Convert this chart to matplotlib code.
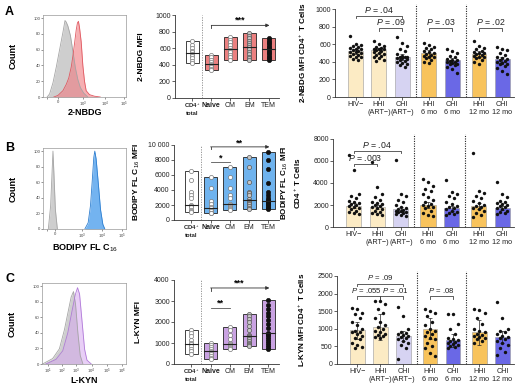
import numpy as np
import matplotlib
matplotlib.use("Agg")
import matplotlib.pyplot as plt

plt.rcParams['font.family'] = ['Liberation Sans', 'DejaVu Sans']
plt.rcParams['mathtext.fontset'] = 'custom'
plt.rcParams['mathtext.rm'] = 'Liberation Sans'
plt.rcParams['mathtext.it'] = 'Liberation Sans:italic'
plt.rcParams['mathtext.bf'] = 'Liberation Sans:bold'

# ---------------- DATA ----------------
# histograms (channel position, % of max)
histA_gray_x = [5, 8, 12, 16, 20, 24, 26.5, 28, 30, 33, 36, 39, 42, 45, 49, 54]
histA_gray_y = [0, 4, 18, 38, 60, 82, 97, 95, 90, 78, 58, 37, 22, 12, 5, 0]
histA_red_x = [13, 18, 24, 28, 31, 34, 36, 38, 40, 41.5, 42.7, 44, 46, 48, 50, 52, 56, 62, 69]
histA_red_y = [0, 2, 8, 16, 24, 38, 52, 68, 85, 94, 96, 88, 70, 40, 20, 8, 3, 1, 0]
histB_gray_x = [6.4, 9.2, 11.2, 12, 13.2, 14.9, 17.3]
histB_gray_y = [0, 30, 80, 100, 70, 25, 0]
histB_blue_x = [50.4, 54.4, 57.2, 59.2, 61.2, 62.4, 64, 66.5, 69.3, 72.1, 74.5]
histB_blue_y = [0, 8, 30, 60, 92, 100, 90, 60, 25, 6, 0]
histC_gray_x = [0.6, 12.7, 20.7, 26.7, 30.7, 34.7, 37.5, 39.9, 42.7, 45.5, 48.7]
histC_gray_y = [0, 7, 19.5, 44, 65, 86, 93, 77, 40, 11, 0]
histC_purple_x = [4.6, 16.7, 24.7, 30.7, 35.9, 39.9, 42.3, 44.7, 47.9, 50.7, 53.5, 58.7]
histC_purple_y = [0, 6, 17, 40, 69, 90, 98, 90, 52, 19, 5, 0]

subset_labels = ["CD4$^+$\ntotal", "Naive", "CM", "EM", "TEM"]
midA_dots = [
    [690, 640, 600, 570, 550, 530, 510, 480, 450, 420],
    [520, 490, 460, 430, 410, 400, 390, 370, 350, 340],
    [730, 700, 670, 640, 600, 580, 550, 520, 490, 460],
    [780, 750, 720, 690, 660, 640, 610, 590, 560, 530, 500, 480, 460],
    [720, 700, 680, 660, 640, 620, 600, 580, 560, 540, 520, 500, 480, 460],
]
midB_dots = [
    [6500, 5300, 3700, 3300, 2900, 2000, 1900, 1700, 1400, 1200, 1100],
    [5700, 4300, 2600, 2200, 1700, 1550, 1400, 1200, 1000, 900],
    [7100, 5700, 4300, 3300, 2900, 2200, 2000, 1800, 1600, 1500, 1300],
    [8400, 7000, 5100, 3800, 3600, 3300, 2800, 2600, 2500, 2300, 2100, 1900, 1600, 1500],
    [9100, 8000, 6800, 5000, 3700, 3300, 3000, 2700, 2500, 2400, 2300, 2100, 2000, 1800, 1600, 1500],
]
midC_dots = [
    [1600, 1500, 1350, 1150, 1000, 950, 850, 700, 600, 500],
    [1000, 900, 800, 700, 620, 580, 500, 400, 300, 220],
    [1750, 1600, 1400, 1200, 1000, 950, 900, 800, 750, 700],
    [2400, 2300, 2150, 2000, 1800, 1600, 1400, 1350, 1300, 1200, 1100, 1000, 950, 900, 850],
    [3050, 2800, 2600, 2450, 2300, 2100, 1900, 1700, 1500, 1420, 1400, 1300, 1200, 1100, 1000, 900, 800, 700],
]

group_labels = ["HIV\u2212", "HHI\n(ART\u2212)", "CHI\n(ART\u2212)", "HHI\n6 mo", "CHI\n6 mo", "HHI\n12 mo", "CHI\n12 mo"]
rightA_bars = [520, 530, 450, 500, 415, 490, 430]
rightA_errs = [30, 30, 35, 30, 30, 30, 30]
rightA_dots = [
    [690, 600, 590, 580, 570, 560, 550, 540, 530, 520, 515, 510, 500, 490, 480, 470, 460, 450, 430, 420],
    [640, 600, 580, 570, 560, 550, 545, 540, 530, 520, 510, 500, 490, 480, 470, 460, 440, 420, 410],
    [680, 610, 580, 540, 520, 490, 470, 460, 455, 450, 445, 440, 430, 420, 410, 400, 390, 380, 360, 340],
    [610, 590, 570, 560, 540, 520, 510, 500, 490, 480, 470, 460, 450, 440, 420, 400, 390],
    [540, 520, 500, 470, 450, 430, 420, 415, 410, 400, 395, 390, 380, 370, 360, 340, 320, 270],
    [640, 580, 560, 540, 520, 510, 500, 495, 490, 480, 470, 460, 450, 440, 420, 400, 380],
    [570, 550, 530, 500, 480, 460, 440, 430, 420, 410, 400, 390, 380, 370, 350, 330, 300, 260],
]
rightB_bars = [1950, 1800, 1600, 2000, 1700, 1900, 1750]
rightB_errs = [250, 200, 200, 300, 250, 300, 200]
rightB_dots = [
    [6500, 5200, 3000, 2800, 2600, 2400, 2300, 2200, 2100, 2000, 1900, 1800, 1700, 1600, 1500, 1400, 1300, 1200],
    [5900, 3600, 3000, 2700, 2500, 2300, 2200, 2100, 2000, 1900, 1800, 1700, 1600, 1500, 1400, 1300, 1200, 1100],
    [6100, 3000, 2800, 2500, 2300, 2000, 1800, 1700, 1600, 1550, 1500, 1450, 1400, 1350, 1300, 1200, 1100, 1000],
    [4400, 4100, 3700, 3500, 3300, 3000, 2700, 2500, 2300, 2100, 2000, 1900, 1800, 1700, 1500, 1300, 1100, 1000],
    [4300, 3200, 3000, 2800, 2600, 2300, 2100, 1900, 1800, 1700, 1600, 1500, 1400, 1300, 1200, 1100],
    [6700, 3300, 3100, 2800, 2600, 2400, 2200, 2000, 1900, 1800, 1700, 1600, 1500, 1300, 1100, 900],
    [4100, 3000, 2700, 2400, 2300, 2200, 2100, 2000, 1900, 1800, 1700, 1600, 1500, 1400, 1300, 1200],
]
rightC_bars = [960, 1050, 800, 1000, 670, 900, 760]
rightC_errs = [240, 380, 150, 300, 180, 360, 170]
rightC_dots = [
    [1600, 1550, 1450, 1420, 1300, 1200, 1100, 1000, 950, 920, 900, 850, 800, 750, 700, 600, 550, 480, 450],
    [1800, 1780, 1700, 1550, 1450, 1300, 1200, 1100, 1050, 1000, 950, 900, 850, 820, 800, 780, 750],
    [1630, 1350, 1000, 900, 880, 850, 820, 800, 780, 750, 700, 650, 600, 550, 450, 150],
    [1550, 1500, 1450, 1350, 1200, 1100, 1000, 950, 900, 850, 800, 750, 700, 600, 500, 450, 300, 230],
    [1430, 1430, 1150, 1000, 850, 750, 700, 680, 650, 620, 600, 580, 550, 500, 480, 450],
    [1550, 1520, 1450, 1300, 1150, 1000, 950, 900, 850, 820, 800, 780, 750, 700, 650, 600],
    [1770, 1300, 1000, 950, 900, 850, 800, 780, 750, 700, 650, 600, 550, 450, 350, 250],
]

# ---------------- LAYOUT ----------------
W, H = 520, 387
fig = plt.figure(figsize=(5.2, 3.87), dpi=100)
AX_COL = '#333333'


def ax_px(x0, y0, x1, y1):
    return fig.add_axes([x0 / W, 1 - y1 / H, (x1 - x0) / W, (y1 - y0) / H])


def hist_panel(rect, curves, xticks, xticklabels, xlabel, label_y):
    ax = ax_px(*rect)
    for xs, ys, fc, ec, a in curves:
        ax.fill_between(xs, ys, color=fc, alpha=a, lw=0)
        ax.plot(xs, ys, color=ec, lw=0.6)
    ax.set_xlim(0, 100)
    ax.set_ylim(0, 104)
    ax.set_yticks([0, 20, 40, 60, 80, 100])
    ax.set_xticks(xticks)
    ax.set_xticklabels(xticklabels)
    ax.tick_params(labelsize=3.1, length=1.5, width=0.4, pad=0.6, colors='#444')
    for s in ax.spines.values():
        s.set_color('#999999')
        s.set_linewidth(0.5)
    ax.set_xlabel(xlabel, fontsize=6.5, fontweight='bold')
    ax.xaxis.set_label_coords(0.5, label_y)
    ax.xaxis.label.set_va('center')
    ax.set_ylabel("Count", fontsize=6.5, fontweight='bold')
    ax.yaxis.set_label_coords(-0.3, 0.5)
    return ax


def style_axes(ax):
    for s in ['top', 'right']:
        ax.spines[s].set_visible(False)
    for s in ['left', 'bottom']:
        ax.spines[s].set_color(AX_COL)
        ax.spines[s].set_linewidth(0.6)
    ax.tick_params(labelsize=5, length=2, width=0.5, pad=1, colors='#222')


def mid_panel(rect, dots, box_color, ylim, yticks, ytl, ylabel, label_x):
    ax = ax_px(*rect)
    style_axes(ax)
    w = 0.68
    for i, d in enumerate(dots):
        lo, hi, med = min(d), max(d), float(np.median(d))
        fc = 'white' if i == 0 else box_color
        ax.bar(i, hi - lo, bottom=lo, width=w, color=fc, edgecolor='#222222', lw=0.6, zorder=2)
        ax.plot([i - w / 2, i + w / 2], [med, med], color='#222222', lw=0.8, zorder=4)
        if i < 3:
            mfc, mec = 'white', '#777777'
        elif i == 3:
            mfc, mec = '#c8c8c8', '#555555'
        else:
            mfc, mec = '#111111', '#111111'
        ax.scatter([i] * len(d), d, s=9, facecolor=mfc, edgecolor=mec, lw=0.5, zorder=3)
    ax.axvline(0.5, color='#888888', lw=0.6, ls=(0, (1.5, 1.5)))
    ax.set_xlim(-0.9, 4.55)
    ax.set_ylim(*ylim)
    ax.set_yticks(yticks)
    ax.set_yticklabels(ytl)
    ax.set_xticks(range(5))
    ax.set_xticklabels(subset_labels)
    for k, t in enumerate(ax.get_xticklabels()):
        t.set_fontsize(5 if k > 0 else 4.2)
        if k < 2:
            t.set_fontweight('bold')
    ax.set_ylabel(ylabel, fontsize=6, fontweight='bold')
    ax.yaxis.set_label_coords(label_x, 0.5)
    return ax


def arrow_bracket(ax, y, tick, text, ty):
    ax.annotate('', xy=(4.05, y), xytext=(1, y),
                arrowprops=dict(arrowstyle='-|>', lw=0.6, color='#333333', mutation_scale=5,
                                shrinkA=0, shrinkB=0), annotation_clip=False)
    ax.plot([1, 1], [y, y - tick], color='#333333', lw=0.6, clip_on=False)
    ax.text(2.5, ty, text, ha='center', va='center', fontsize=6.5, fontweight='bold', clip_on=False)


def line_bracket(ax, x1, x2, y, text, ty, tx):
    ax.plot([x1, x2], [y, y], color='#555555', lw=0.6, clip_on=False)
    ax.text(tx, ty, text, ha='center', va='center', fontsize=6.5, fontweight='bold', clip_on=False)


pos = [0, 1, 2, 3.15, 4.15, 5.3, 6.3]
bar_colors = ['#fcebc4', '#fcebc4', '#d6d3f2', '#f8c35c', '#6a68e6', '#f8c35c', '#6a68e6']
offs = [-0.22, 0.0, 0.22, -0.11, 0.11]


def right_panel(rect, dots, bars, errs, ylim, yticks, ylabel, label_x, brackets, tick, pfs=6.3):
    ax = ax_px(*rect)
    style_axes(ax)
    ax.bar(pos, bars, width=0.64, color=bar_colors, edgecolor='#9a9a9a', lw=0.4, zorder=1)
    ax.errorbar(pos, bars, yerr=errs, fmt='none', ecolor='#222222', elinewidth=0.5,
                capsize=1.6, capthick=0.5, zorder=2)
    for p, d in zip(pos, dots):
        xs = [p + offs[k % len(offs)] for k in range(len(d))]
        ax.scatter(xs, d, s=6, color='#111111', lw=0, zorder=3)
    for xv in [2.575, 4.725]:
        ax.axvline(xv, ymin=0, ymax=1.06, color='#222222', lw=0.8, ls=(0, (1, 1.2)), clip_on=False)
    for x1, x2, y, txt, tx in brackets:
        ax.plot([x1, x1, x2, x2], [y - tick, y, y, y - tick], color='#444444', lw=0.6, clip_on=False)
        ax.text(tx, y + tick * 0.6, txt, ha='center', va='bottom', fontsize=pfs,
                color='#222222', clip_on=False)
    ax.set_xlim(-0.88, 6.8)
    ax.set_ylim(*ylim)
    ax.set_yticks(yticks)
    ax.set_xticks(pos)
    ax.set_xticklabels(group_labels, fontsize=5.2)
    ax.set_ylabel(ylabel, fontsize=5.8, fontweight='bold', linespacing=1.3)
    ax.yaxis.set_label_coords(label_x, 0.5)
    return ax


P = r"$\mathit{P}$"

# ---- Row A ----
hist_panel((43, 15, 126, 97),
           [(histA_gray_x, histA_gray_y, '#c9c9c9', '#a5a5a5', 0.9),
            (histA_red_x, histA_red_y, '#f07a80', '#e05860', 0.6)],
           [5, 18, 48, 75, 98], ["", "0", "$10^3$", "$10^4$", "$10^5$"], "2-NBDG", -0.185)
axA2 = mid_panel((175, 15, 279, 98), midA_dots, '#eb8080', (0, 1000),
                 [0, 200, 400, 600, 800, 1000], ["0", "200", "400", "600", "800", "1000"],
                 "2-NBDG MFI", -0.29)
arrow_bracket(axA2, 875, 30, "***", 935)
right_panel((335, 9, 514, 97), rightA_dots, rightA_bars, rightA_errs, (0, 1000),
            [0, 200, 400, 600, 800, 1000], "2-NBDG MFI CD4$^+$ T Cells", -0.15,
            [(0, 2, 920, P + " = .04", 1), (1, 2, 780, P + " = .09", 1.5),
             (3.15, 4.15, 780, P + " = .03", 3.65), (5.3, 6.3, 780, P + " = .02", 5.8)], 25)

# ---- Row B ----
hist_panel((43, 148, 126, 229),
           [(histB_gray_x, histB_gray_y, '#c9c9c9', '#a5a5a5', 0.9),
            (histB_blue_x, histB_blue_y, '#5aa6ee', '#2f7fd0', 0.85)],
           [5, 14, 47, 71, 95], ["", "0", "$10^3$", "$10^4$", "$10^5$"], "BODIPY FL C$_{16}$", -0.235)
axB2 = mid_panel((174, 145, 279, 220), midB_dots, '#6fb3ee', (0, 10000),
                 [0, 2000, 4000, 6000, 8000, 10000], ["0", "2000", "4000", "6000", "8000", "10 000"],
                 "BODIPY FL C$_{16}$ MFI", -0.3)
arrow_bracket(axB2, 9750, 300, "**", 10300)
line_bracket(axB2, 1, 2, 7700, "*", 8300, 1.5)
right_panel((333, 139, 514, 227), rightB_dots, rightB_bars, rightB_errs, (0, 8000),
            [0, 2000, 4000, 6000, 8000], "BODIPY FL C$_{16}$ MFI\nCD4$^+$ T Cells", -0.165,
            [(0, 2, 6900, P + " = .04", 1), (0, 1, 5700, P + " = .003", 0.5)], 200)

# ---- Row C ----
hist_panel((42, 283, 126, 364),
           [(histC_gray_x, histC_gray_y, '#c9c9c9', '#a5a5a5', 0.9),
            (histC_purple_x, histC_purple_y, '#d6a8f0', '#b07ad8', 0.55)],
           [7, 24, 41, 59, 77, 95], ["$10^1$", "$10^2$", "$10^3$", "$10^4$", "$10^5$", "$10^6$"], "L-KYN", -0.2)
axC2 = mid_panel((174, 280, 279, 364), midC_dots, '#c9a2e2', (0, 4000),
                 [0, 1000, 2000, 3000, 4000], ["0", "1000", "2000", "3000", "4000"],
                 "L-KYN MFI", -0.3)
arrow_bracket(axC2, 3620, 120, "***", 3870)
line_bracket(axC2, 1, 2, 2670, "**", 2880, 1.5)
right_panel((337, 276, 514, 364), rightC_dots, rightC_bars, rightC_errs, (0, 2500),
            [0, 500, 1000, 1500, 2000, 2500], "L-KYN MFI CD4$^+$ T Cells", -0.17,
            [(0, 2, 2280, P + " = .09", 1), (0, 1, 1930, P + " = .055", 0.4),
             (1, 2, 1930, P + " = .01", 1.65), (3.15, 4.15, 1930, P + " = .08", 3.65)], 70, pfs=5.6)

# panel letters
for lbl, y in [("A", 12), ("B", 148), ("C", 279)]:
    fig.text(5 / W, 1 - y / H, lbl, fontsize=9, fontweight='bold', va='center', ha='left')

fig.savefig("out.png", dpi=100)
